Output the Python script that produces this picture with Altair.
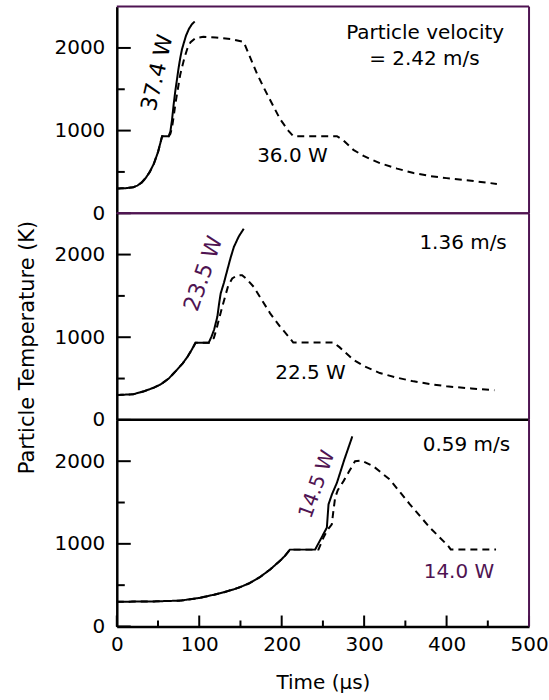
import altair as alt
import pandas as pd

PURPLE = "#4f1452"
FONT = "DejaVu Sans"
W, H = 413, 207

# ---- 2.42 m/s : 37.4 W (solid) and 36.0 W (dashed)
top_solid_t = [0, 10, 20, 25, 30, 35, 40, 45, 50, 55, 63, 65, 67, 69, 71, 73, 75, 77, 79, 81, 84, 87.5, 91, 94.5]
top_solid_T = [300, 302, 315, 335, 370, 425, 500, 600, 740, 933, 933, 990, 1130, 1320, 1480, 1620, 1760, 1880, 1980, 2050, 2150, 2230, 2285, 2320]
top_dash_t = [0, 10, 20, 25, 30, 35, 40, 45, 50, 55, 63, 65, 67, 69, 71, 73, 75, 77, 79.5, 82, 85.5, 89.5, 95.5, 105, 120, 140,
              154, 162, 170, 178, 186, 198, 208, 214, 267, 275, 287, 300, 319, 340, 360, 380, 400, 430, 461]
top_dash_T = [300, 302, 315, 335, 370, 425, 500, 600, 740, 933, 933, 960, 1040, 1170, 1320, 1440, 1560, 1680, 1780, 1880, 1990, 2070, 2120, 2135, 2125, 2105,
              2072, 1880, 1690, 1525, 1370, 1140, 1000, 933, 933, 880, 767, 690, 606, 540, 486, 450, 425, 393, 355]

# ---- 1.36 m/s : 23.5 W (solid) and 22.5 W (dashed)
mid_solid_t = [0, 20, 33, 45, 53, 63, 73, 80, 86, 91, 95.5, 111.5, 115, 118, 122, 124, 126, 130, 134, 138, 142, 148, 154]
mid_solid_T = [300, 310, 346, 390, 428, 500, 606, 684, 767, 850, 933, 933, 1010, 1090, 1250, 1400, 1530, 1660, 1811, 1960, 2092, 2220, 2313]
mid_dash_t = [0, 20, 33, 45, 53, 63, 73, 80, 86, 91, 95.5, 111.5, 114, 117.7, 121, 123.7, 127.8, 131.8, 135, 140, 146, 152, 158, 166,
              176, 186, 198, 210, 214, 263, 270, 287, 300, 319, 340, 360, 380, 400, 430, 458]
mid_dash_T = [300, 310, 346, 390, 428, 500, 606, 684, 767, 850, 933, 933, 945, 990, 1100, 1209, 1365, 1506, 1620, 1711, 1748, 1751, 1700, 1610,
              1450, 1289, 1129, 988, 936, 936, 880, 727, 650, 566, 510, 466, 433, 406, 380, 358]

# ---- 0.59 m/s : 14.5 W (solid) and 14.0 W (dashed)
low_solid_t = [0, 40, 77, 100, 118, 130, 142, 150, 160, 174, 186, 198, 204, 210, 240.5, 247, 254.8, 256.8, 261, 267, 276, 285.7]
low_solid_T = [300, 302, 313, 345, 385, 415, 450, 478, 520, 600, 690, 795, 855, 930, 930, 1050, 1197, 1478, 1600, 1739, 2020, 2301]
low_dash_t = [0, 40, 77, 100, 118, 130, 142, 150, 160, 174, 186, 198, 204, 210, 244.6, 250.7, 255, 260.8, 262.5, 264.8, 268, 275, 282,
              289, 297, 311, 331, 355.5, 379.7, 401.8, 405, 460]
low_dash_T = [300, 302, 313, 345, 385, 415, 450, 478, 520, 600, 690, 795, 855, 930, 930, 1076, 1160, 1237, 1380, 1558, 1650, 1759, 1880,
              2000, 2008, 1940, 1779, 1478, 1197, 976, 933, 933]

y_major = [0, 1000, 2000]
y_minor = [500, 1500]
x_major = [0, 100, 200, 300, 400, 500]
x_minor = [50, 150, 250, 350, 450]

xscale = alt.Scale(domain=[0, 500], nice=False, zero=False)
yscale = alt.Scale(domain=[0, 2500], nice=False, zero=False)
one = pd.DataFrame({"k": [0]})


def series(ts, Ts, kind):
    return pd.DataFrame({"t": ts, "T": Ts, "kind": kind, "i": range(len(ts))})


def note(text, t, T, color="black", angle=0, size=20):
    return alt.Chart(pd.DataFrame({"t": [t], "T": [T], "s": [text]})).mark_text(
        font=FONT, fontSize=size, color=color, angle=angle, align="center", baseline="middle"
    ).encode(x=alt.X("t:Q", scale=xscale), y=alt.Y("T:Q", scale=yscale), text="s:N")


def panel(solid, dashed, notes, which):
    df = pd.concat([series(*solid, "solid"), series(*dashed, "dashed")])
    yaxis = dict(values=y_major, format="d", labelFont=FONT, labelFontSize=20, labelColor="black",
                 labelPadding=12, ticks=False, tickSize=0, grid=False, domainColor="black",
                 domainWidth=2.5, title=None)
    if which == "mid":
        yaxis.update(title="Particle Temperature (K)", titleFont=FONT, titleFontSize=21,
                     titleFontWeight="normal", titleColor="black", titleAngle=270,
                     titleBaseline="alphabetic", titleAlign="center", titleX=-83, titleY=134)
    if which == "low":
        xaxis = alt.Axis(values=x_major, format="d", labelFont=FONT, labelFontSize=20, labelColor="black",
                         labelPadding=8, ticks=False, tickSize=0, grid=False, domainColor="black",
                         domainWidth=2.5, title="Time (\u00b5s)", titleFont=FONT, titleFontSize=20,
                         titleFontWeight="normal", titleColor="black", titlePadding=18,
                         labelFlush=False)
    else:
        xaxis = None

    lines = alt.Chart(df).mark_line(color="black", strokeWidth=2).encode(
        x=alt.X("t:Q", scale=xscale, axis=xaxis),
        y=alt.Y("T:Q", scale=yscale, axis=alt.Axis(**yaxis)),
        strokeDash=alt.StrokeDash("kind:N", scale=alt.Scale(domain=["solid", "dashed"], range=[[1, 0], [7, 5]]),
                                  legend=None),
        order="i:Q",
    )

    layers = [lines]
    # inward y ticks
    layers.append(alt.Chart(pd.DataFrame({"v": y_major})).mark_rule(color="black", strokeWidth=2).encode(
        y=alt.Y("v:Q", scale=yscale), x=alt.value(0), x2=alt.value(14)))
    layers.append(alt.Chart(pd.DataFrame({"v": y_minor})).mark_rule(color="black", strokeWidth=2).encode(
        y=alt.Y("v:Q", scale=yscale), x=alt.value(0), x2=alt.value(8)))
    if which == "low":
        layers.append(alt.Chart(pd.DataFrame({"v": x_major})).mark_rule(color="black", strokeWidth=2).encode(
            x=alt.X("v:Q", scale=xscale), y=alt.value(H), y2=alt.value(H - 11)))
        layers.append(alt.Chart(pd.DataFrame({"v": x_minor})).mark_rule(color="black", strokeWidth=2).encode(
            x=alt.X("v:Q", scale=xscale), y=alt.value(H), y2=alt.value(H - 6)))
    # frame
    if which != "low":
        layers.append(alt.Chart(one).mark_rule(color=PURPLE, strokeWidth=2).encode(
            x=alt.value(0), x2=alt.value(W), y=alt.value(0)))
    if which == "top":
        layers.append(alt.Chart(one).mark_rule(color=PURPLE, strokeWidth=2).encode(
            x=alt.value(0), x2=alt.value(W), y=alt.value(H)))
    if which == "mid":
        layers.append(alt.Chart(one).mark_rule(color="black", strokeWidth=2.5).encode(
            x=alt.value(0), x2=alt.value(W), y=alt.value(H)))
    layers.append(alt.Chart(one).mark_rule(color=PURPLE, strokeWidth=2).encode(
        x=alt.value(W), y=alt.value(0), y2=alt.value(H)))
    layers += notes
    return alt.layer(*layers).properties(width=W, height=H)


top = panel((top_solid_t, top_solid_T), (top_dash_t, top_dash_T), [
    note("Particle velocity", 374, 2185),
    note("= 2.42 m/s", 373, 1862),
    note("36.0 W", 213, 687),
    note("37.4 W", 49, 1700, angle=283, size=22),
], "top")

mid = panel((mid_solid_t, mid_solid_T), (mid_dash_t, mid_dash_T), [
    note("1.36 m/s", 420, 2139),
    note("22.5 W", 235, 566),
    note("23.5 W", 105, 1770, color=PURPLE, angle=289, size=22),
], "mid")

low = panel((low_solid_t, low_solid_T), (low_dash_t, low_dash_T), [
    note("0.59 m/s", 424, 2199),
    note("14.0 W", 415, 657, color=PURPLE),
    note("14.5 W", 243, 1719, color=PURPLE, angle=290),
], "low")

chart = alt.vconcat(top, mid, low, spacing=0, bounds="flush").properties(
    padding={"left": 16, "top": 5, "right": 0, "bottom": 0}
).configure_view(stroke=None)

chart.save("out.html", embed_options={"renderer": "svg", "actions": False})
